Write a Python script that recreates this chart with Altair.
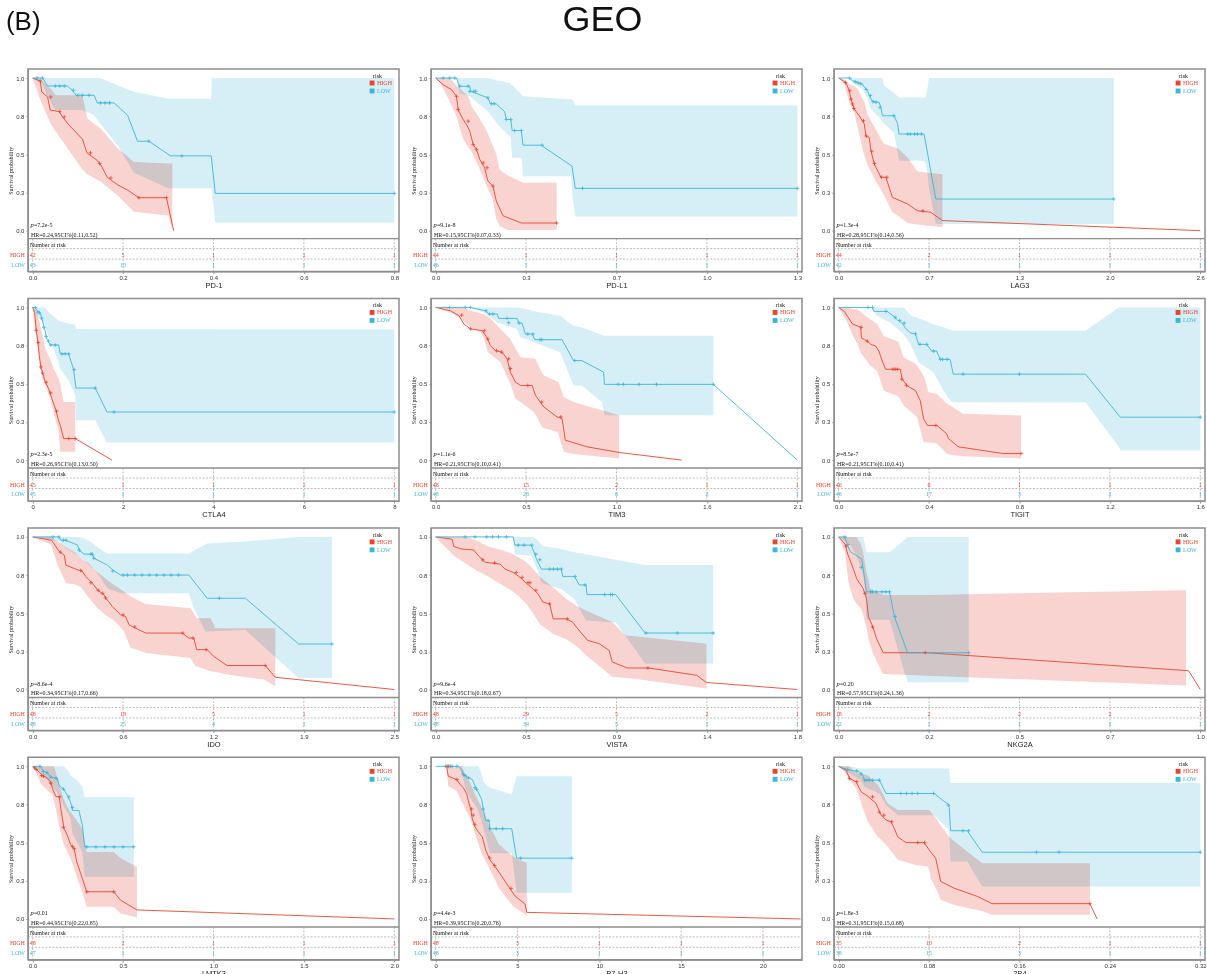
import altair as alt
import pandas as pd

# ---------------------------------------------------------------- data
PANEL_TITLES = ["PD-1", "PD-L1", "LAG3", "CTLA4", "TIM3", "TIGIT",
                "IDO", "VISTA", "NKG2A", "LMTK3", "B7-H3", "2B4"]
P_VALUES = ["7.2e-5", "9.1e-8", "1.3e-4", "2.3e-5", "1.1e-6", "8.5e-7",
            "8.6e-4", "9.6e-4", "0.20", "0.01", "4.4e-3", "1.8e-3"]
HR_TEXT = ["HR=0.24,95CI%(0.11,0.52)", "HR=0.15,95CI%(0.07,0.33)",
           "HR=0.28,95CI%(0.14,0.56)", "HR=0.26,95CI%(0.13,0.50)",
           "HR=0.21,95CI%(0.10,0.41)", "HR=0.21,95CI%(0.10,0.41)",
           "HR=0.34,95CI%(0.17,0.66)", "HR=0.34,95CI%(0.18,0.67)",
           "HR=0.57,95CI%(0.24,1.36)", "HR=0.44,95CI%(0.22,0.85)",
           "HR=0.39,95CI%(0.20,0.76)", "HR=0.31,95CI%(0.15,0.68)"]
X_TICKS = [[0, 0.2, 0.4, 0.6, 0.8], [0, 0.325, 0.65, 0.975, 1.3],
           [0, 0.655, 1.31, 1.965, 2.62], [0, 2, 4, 6, 8],
           [0, 0.52, 1.04, 1.56, 2.08], [0, 0.4, 0.8, 1.2, 1.6],
           [0, 0.62, 1.24, 1.86, 2.48], [0, 0.46, 0.92, 1.38, 1.84],
           [0, 0.24, 0.48, 0.72, 0.96], [0, 0.5, 1.0, 1.5, 2.0],
           [0, 5, 10, 15, 20], [0, 0.08, 0.16, 0.24, 0.32]]
X_FORMATS = [".1f", ".1f", ".1f", "d", ".1f", ".1f", ".1f", ".1f", ".1f", ".1f", "d", ".2f"]
X_END = [0.8, 1.3, 2.62, 8, 2.08, 1.6, 2.48, 1.84, 0.96, 2.0, 22.1, 0.32]
RISK_HIGH = [[42, 5, 1, 1, 1], [44, 1, 1, 1, 1], [44, 2, 1, 1, 1], [45, 1, 1, 1, 1],
             [48, 15, 2, 1, 1], [46, 6, 1, 1, 1], [48, 18, 5, 1, 1], [48, 29, 5, 2, 1],
             [18, 2, 2, 2, 1], [48, 2, 1, 1, 1], [48, 3, 1, 1, 1], [35, 10, 2, 1, 1]]
RISK_LOW = [[43, 10, 1, 1, 1], [46, 5, 1, 1, 1], [42, 1, 1, 1, 1], [45, 1, 1, 1, 1],
            [48, 26, 6, 2, 1], [46, 17, 3, 2, 1], [48, 25, 4, 1, 1], [48, 34, 5, 1, 1],
            [22, 1, 1, 1, 1], [47, 1, 1, 1, 1], [48, 3, 1, 1, 1], [38, 15, 3, 1, 1]]

# ---- PD-1
PD1_HIGH_LINE = [(0, 1.0), (0.017, 0.98), (0.02, 0.91), (0.033, 0.876), (0.039, 0.79), (0.059, 0.78),
                 (0.066, 0.745), (0.081, 0.69), (0.11, 0.60), (0.12, 0.51), (0.143, 0.46), (0.151, 0.43),
                 (0.165, 0.35), (0.188, 0.30), (0.21, 0.266), (0.235, 0.216), (0.296, 0.216), (0.312, 0.0)]
PD1_HIGH_CENS = [(0.017, 0.98), (0.04, 0.876), (0.06, 0.78), (0.07, 0.745), (0.128, 0.51), (0.148, 0.44),
                 (0.173, 0.345), (0.235, 0.216), (0.296, 0.216)]
PD1_HIGH_BAND = [(0, 1, 1), (0.018, 0.85, 0.99), (0.04, 0.70, 0.93), (0.051, 0.65, 0.887), (0.077, 0.54, 0.887),
                 (0.11, 0.40, 0.887), (0.121, 0.37, 0.734), (0.151, 0.32, 0.667), (0.188, 0.23, 0.54),
                 (0.224, 0.124, 0.45), (0.30, 0.10, 0.44), (0.309, 0.0, 0.44)]
PD1_LOW_LINE = [(0, 1.0), (0.022, 1.0), (0.033, 0.948), (0.077, 0.948), (0.088, 0.92), (0.096, 0.887),
                (0.136, 0.887), (0.143, 0.837), (0.18, 0.837), (0.21, 0.756), (0.232, 0.586), (0.257, 0.586),
                (0.305, 0.49), (0.395, 0.49), (0.404, 0.244), (0.8, 0.244)]
PD1_LOW_CENS = [(0.01, 1.0), (0.022, 1.0), (0.05, 0.948), (0.06, 0.948), (0.07, 0.948), (0.09, 0.92),
                (0.1, 0.887), (0.11, 0.887), (0.125, 0.887), (0.15, 0.837), (0.16, 0.837), (0.17, 0.837),
                (0.257, 0.586), (0.33, 0.49), (0.8, 0.244)]
PD1_LOW_BAND = [(0, 1, 1), (0.022, 0.96, 1), (0.033, 0.88, 1), (0.05, 0.79, 1), (0.11, 0.79, 1),
                (0.136, 0.756, 1), (0.15, 0.70, 1), (0.19, 0.55, 0.95), (0.224, 0.38, 0.91),
                (0.30, 0.277, 0.865), (0.395, 0.277, 0.865), (0.396, 0.277, 1.0), (0.404, 0.054, 1.0),
                (0.8, 0.054, 1.0)]

# ---- PD-L1
PDL1_HIGH_LINE = [(0, 1.0), (0.027, 0.956), (0.057, 0.924), (0.075, 0.88), (0.081, 0.793), (0.099, 0.728),
                  (0.111, 0.695), (0.123, 0.651), (0.135, 0.564), (0.147, 0.531), (0.159, 0.466),
                  (0.176, 0.412), (0.188, 0.325), (0.206, 0.292), (0.218, 0.194), (0.242, 0.098),
                  (0.308, 0.05), (0.435, 0.05)]
PDL1_HIGH_CENS = [(0.075, 0.88), (0.081, 0.793), (0.117, 0.717), (0.135, 0.564), (0.147, 0.531),
                  (0.171, 0.444), (0.185, 0.412), (0.206, 0.292), (0.435, 0.05)]
PDL1_HIGH_BAND = [(0, 1, 1), (0.016, 0.97, 1), (0.05, 0.85, 1), (0.075, 0.75, 0.95), (0.099, 0.60, 0.91),
                  (0.117, 0.55, 0.88), (0.129, 0.52, 0.815), (0.153, 0.425, 0.75), (0.182, 0.30, 0.66),
                  (0.206, 0.20, 0.555), (0.218, 0.074, 0.50), (0.23, 0.03, 0.40), (0.26, 0.005, 0.36),
                  (0.314, 0.005, 0.314), (0.435, 0.005, 0.314)]
PDL1_LOW_LINE = [(0, 1.0), (0.075, 1.0), (0.085, 0.946), (0.123, 0.946), (0.126, 0.913), (0.188, 0.87),
                 (0.197, 0.832), (0.218, 0.83), (0.248, 0.78), (0.254, 0.728), (0.27, 0.728), (0.275, 0.656),
                 (0.308, 0.656), (0.314, 0.56), (0.379, 0.56), (0.49, 0.423), (0.502, 0.277), (1.3, 0.277)]
PDL1_LOW_CENS = [(0.027, 1.0), (0.051, 1.0), (0.069, 1.0), (0.087, 0.946), (0.117, 0.946), (0.123, 0.913),
                 (0.137, 0.913), (0.144, 0.913), (0.188, 0.87), (0.2, 0.832), (0.21, 0.832), (0.254, 0.728),
                 (0.27, 0.728), (0.284, 0.656), (0.308, 0.656), (0.383, 0.56), (0.528, 0.277), (1.3, 0.277)]
PDL1_LOW_BAND = [(0, 1, 1), (0.075, 1.0, 1), (0.085, 0.9, 1), (0.123, 0.88, 1), (0.182, 0.79, 1),
                 (0.188, 0.78, 1), (0.23, 0.68, 0.98), (0.266, 0.62, 0.967), (0.27, 0.61, 0.96),
                 (0.275, 0.478, 0.955), (0.31, 0.478, 0.89), (0.314, 0.357, 0.88), (0.487, 0.357, 0.86),
                 (0.493, 0.205, 0.858), (0.502, 0.092, 0.82), (1.3, 0.092, 0.82)]

# ---- LAG3
LAG3_HIGH_LINE = [(0, 1.0), (0.053, 0.97), (0.077, 0.917), (0.089, 0.862), (0.113, 0.797), (0.149, 0.753),
                  (0.186, 0.699), (0.198, 0.62), (0.222, 0.61), (0.234, 0.524), (0.258, 0.437), (0.306, 0.35),
                  (0.342, 0.35), (0.39, 0.218), (0.499, 0.175), (0.571, 0.13), (0.668, 0.12), (0.752, 0.066),
                  (2.62, 0.0)]
LAG3_HIGH_CENS = [(0.05, 0.97), (0.08, 0.917), (0.09, 0.862), (0.1, 0.83), (0.11, 0.8), (0.18, 0.72),
                  (0.2, 0.62), (0.24, 0.52), (0.26, 0.44), (0.31, 0.35), (0.35, 0.35), (0.61, 0.13)]
LAG3_HIGH_BAND = [(0, 1, 1), (0.041, 0.96, 0.99), (0.077, 0.84, 0.96), (0.113, 0.775, 0.945),
                  (0.137, 0.677, 0.93), (0.186, 0.49, 0.84), (0.21, 0.43, 0.76), (0.258, 0.343, 0.68),
                  (0.306, 0.27, 0.60), (0.33, 0.23, 0.57), (0.39, 0.12, 0.55), (0.427, 0.10, 0.54),
                  (0.475, 0.066, 0.50), (0.5, 0.05, 0.48), (0.571, 0.04, 0.387), (0.752, 0.022, 0.37)]
LAG3_LOW_LINE = [(0, 1.0), (0.077, 1.0), (0.1, 0.983), (0.173, 0.96), (0.186, 0.94), (0.21, 0.917),
                 (0.222, 0.885), (0.246, 0.845), (0.294, 0.84), (0.306, 0.808), (0.318, 0.753), (0.402, 0.753),
                 (0.427, 0.7), (0.438, 0.633), (0.619, 0.633), (0.704, 0.207), (1.993, 0.207)]
LAG3_LOW_CENS = [(0.08, 1.0), (0.12, 0.975), (0.14, 0.968), (0.16, 0.962), (0.2, 0.925), (0.23, 0.885),
                 (0.25, 0.845), (0.27, 0.842), (0.3, 0.808), (0.4, 0.753), (0.5, 0.633), (0.52, 0.633),
                 (0.55, 0.633), (0.57, 0.633), (0.6, 0.633), (1.993, 0.207)]
LAG3_LOW_BAND = [(0, 1, 1), (0.077, 1, 1), (0.1, 0.97, 1), (0.173, 0.928, 1), (0.21, 0.862, 1),
                 (0.234, 0.797, 1), (0.306, 0.73, 1), (0.318, 0.71, 1), (0.33, 0.70, 0.95), (0.402, 0.64, 0.90),
                 (0.438, 0.458, 0.873), (0.619, 0.458, 0.873), (0.63, 0.44, 0.873), (0.643, 0.38, 0.93),
                 (0.655, 0.28, 1.0), (0.704, 0.044, 1.0), (1.993, 0.044, 1.0)]

# ---- CTLA4
CTLA4_HIGH_LINE = [(0, 1.0), (0.044, 0.967), (0.081, 0.848), (0.118, 0.772), (0.147, 0.685), (0.184, 0.609),
                   (0.228, 0.565), (0.28, 0.511), (0.354, 0.467), (0.427, 0.402), (0.516, 0.326), (0.56, 0.272),
                   (0.611, 0.228), (0.648, 0.185), (0.685, 0.141), (0.943, 0.141), (1.753, 0.0)]
CTLA4_HIGH_CENS = [(0.08, 0.85), (0.12, 0.77), (0.18, 0.61), (0.22, 0.57), (0.3, 0.51), (0.4, 0.44),
                   (0.53, 0.32), (0.8, 0.141), (0.943, 0.141)]
CTLA4_HIGH_BAND = [(0, 1, 1), (0.044, 0.88, 0.99), (0.096, 0.772, 0.967), (0.17, 0.598, 0.88),
                   (0.206, 0.55, 0.837), (0.28, 0.489, 0.728), (0.39, 0.402, 0.663), (0.464, 0.315, 0.598),
                   (0.575, 0.185, 0.533), (0.611, 0.054, 0.50), (0.685, 0.054, 0.38), (0.943, 0.054, 0.38)]
CTLA4_LOW_LINE = [(0, 1.0), (0.059, 1.0), (0.096, 0.978), (0.17, 0.963), (0.206, 0.924), (0.265, 0.859),
                  (0.317, 0.793), (0.39, 0.754), (0.575, 0.754), (0.611, 0.696), (0.796, 0.696), (0.906, 0.593),
                  (0.958, 0.472), (1.385, 0.472), (1.643, 0.315), (8.0, 0.315)]
CTLA4_LOW_CENS = [(0.06, 1.0), (0.12, 0.97), (0.15, 0.965), (0.2, 0.93), (0.25, 0.87), (0.3, 0.81),
                  (0.35, 0.78), (0.4, 0.754), (0.5, 0.754), (0.65, 0.696), (0.72, 0.696), (0.8, 0.696),
                  (0.92, 0.593), (1.385, 0.472), (1.8, 0.315), (8.0, 0.315)]
CTLA4_LOW_BAND = [(0, 1, 1), (0.096, 0.946, 1), (0.28, 0.88, 1), (0.354, 0.804, 0.967), (0.464, 0.728, 0.94),
                  (0.575, 0.64, 0.913), (0.611, 0.598, 0.91), (0.796, 0.522, 0.895), (0.943, 0.424, 0.887),
                  (0.958, 0.261, 0.859), (1.385, 0.261, 0.858), (1.643, 0.115, 0.857), (8.0, 0.115, 0.855)]

# ---- TIM3
TIM3_HIGH_LINE = [(0, 1.0), (0.086, 0.978), (0.134, 0.946), (0.163, 0.891), (0.201, 0.859), (0.268, 0.848),
                  (0.3, 0.793), (0.315, 0.75), (0.344, 0.717), (0.382, 0.707), (0.411, 0.663), (0.43, 0.576),
                  (0.459, 0.511), (0.488, 0.489), (0.555, 0.489), (0.574, 0.424), (0.602, 0.38), (0.622, 0.348),
                  (0.698, 0.283), (0.727, 0.272), (0.746, 0.13), (0.87, 0.087), (1.055, 0.05), (1.415, 0.0)]
TIM3_HIGH_CENS = [(0.15, 0.95), (0.2, 0.86), (0.28, 0.848), (0.3, 0.793), (0.35, 0.717), (0.38, 0.707),
                  (0.42, 0.663), (0.43, 0.6), (0.53, 0.489), (0.61, 0.38), (0.72, 0.283)]
TIM3_HIGH_BAND = [(0, 1, 1), (0.086, 0.967, 1), (0.143, 0.93, 1), (0.182, 0.891, 0.99), (0.201, 0.87, 0.978),
                  (0.258, 0.837, 0.96), (0.277, 0.80, 0.957), (0.3, 0.707, 0.94), (0.319, 0.69, 0.924),
                  (0.373, 0.641, 0.859), (0.43, 0.5, 0.793), (0.459, 0.402, 0.73), (0.488, 0.38, 0.674),
                  (0.564, 0.315, 0.665), (0.574, 0.30, 0.663), (0.612, 0.217, 0.57), (0.622, 0.21, 0.554),
                  (0.698, 0.185, 0.515), (0.707, 0.17, 0.511), (0.736, 0.054, 0.413), (0.793, 0.04, 0.38),
                  (1.055, 0.011, 0.293)]
TIM3_LOW_LINE = [(0, 1.0), (0.201, 1.0), (0.287, 0.978), (0.306, 0.957), (0.354, 0.957), (0.363, 0.928),
                 (0.468, 0.928), (0.478, 0.898), (0.497, 0.898), (0.516, 0.826), (0.555, 0.826), (0.57, 0.789),
                 (0.727, 0.789), (0.793, 0.652), (0.841, 0.652), (0.966, 0.576), (0.971, 0.496),
                 (1.597, 0.496), (2.08, 0.0)]
TIM3_LOW_CENS = [(0.08, 1.0), (0.17, 1.0), (0.2, 1.0), (0.29, 0.978), (0.31, 0.957), (0.33, 0.957),
                 (0.41, 0.928), (0.42, 0.9), (0.48, 0.898), (0.53, 0.826), (0.56, 0.826), (0.6, 0.789),
                 (0.61, 0.789), (0.8, 0.652), (1.05, 0.496), (1.08, 0.496), (1.17, 0.496), (1.27, 0.496),
                 (1.597, 0.496)]
TIM3_LOW_BAND = [(0, 1, 1), (0.201, 1, 1), (0.277, 0.967, 1), (0.354, 0.902, 1), (0.468, 0.859, 1),
                 (0.478, 0.83, 1), (0.488, 0.804, 0.998), (0.555, 0.78, 0.978), (0.564, 0.772, 0.975),
                 (0.717, 0.707, 0.946), (0.755, 0.598, 0.91), (0.793, 0.489, 0.88), (0.841, 0.489, 0.87),
                 (0.956, 0.38, 0.82), (0.966, 0.33, 0.815), (0.971, 0.293, 0.815), (1.597, 0.293, 0.815)]

# ---- TIGIT
TIGIT_HIGH_LINE = [(0, 1.0), (0.025, 0.974), (0.039, 0.942), (0.061, 0.892), (0.098, 0.87), (0.101, 0.8),
                   (0.127, 0.779), (0.142, 0.758), (0.164, 0.747), (0.178, 0.714), (0.193, 0.649),
                   (0.208, 0.595), (0.273, 0.595), (0.281, 0.53), (0.303, 0.487), (0.34, 0.455), (0.361, 0.39),
                   (0.376, 0.27), (0.393, 0.227), (0.434, 0.227), (0.478, 0.173), (0.486, 0.141),
                   (0.529, 0.087), (0.727, 0.043), (0.807, 0.043)]
TIGIT_HIGH_CENS = [(0.1, 0.87), (0.127, 0.779), (0.24, 0.595), (0.25, 0.595), (0.26, 0.595), (0.28, 0.53),
                   (0.3, 0.49), (0.43, 0.227), (0.807, 0.043)]
TIGIT_HIGH_BAND = [(0, 1, 1), (0.039, 0.90, 1), (0.061, 0.823, 0.99), (0.083, 0.76, 0.985),
                   (0.098, 0.703, 0.97), (0.12, 0.66, 0.942), (0.135, 0.628, 0.93), (0.164, 0.59, 0.898),
                   (0.171, 0.584, 0.89), (0.2, 0.455, 0.812), (0.259, 0.42, 0.779), (0.266, 0.411, 0.77),
                   (0.288, 0.357, 0.671), (0.332, 0.30, 0.639), (0.347, 0.281, 0.62), (0.376, 0.119, 0.552),
                   (0.398, 0.115, 0.444), (0.434, 0.108, 0.433), (0.478, 0.043, 0.37), (0.493, 0.035, 0.357),
                   (0.551, 0.025, 0.303), (0.807, 0.011, 0.292)]
TIGIT_LOW_LINE = [(0, 1.0), (0.149, 1.0), (0.156, 0.974), (0.215, 0.974), (0.244, 0.942), (0.259, 0.92),
                  (0.281, 0.898), (0.295, 0.866), (0.317, 0.833), (0.339, 0.827), (0.354, 0.758), (0.39, 0.758),
                  (0.412, 0.714), (0.434, 0.714), (0.449, 0.66), (0.493, 0.66), (0.507, 0.563), (1.092, 0.563),
                  (1.246, 0.281), (1.6, 0.281)]
TIGIT_LOW_CENS = [(0.13, 1.0), (0.15, 1.0), (0.21, 0.974), (0.25, 0.935), (0.27, 0.915), (0.29, 0.898),
                  (0.34, 0.827), (0.36, 0.758), (0.39, 0.758), (0.42, 0.714), (0.45, 0.66), (0.46, 0.66),
                  (0.48, 0.66), (0.55, 0.563), (0.8, 0.563), (1.6, 0.281)]
TIGIT_LOW_BAND = [(0, 1, 1), (0.149, 1, 1), (0.164, 0.952, 1), (0.23, 0.898, 1), (0.288, 0.823, 1),
                  (0.317, 0.76, 0.952), (0.332, 0.714, 0.94), (0.354, 0.639, 0.93), (0.405, 0.59, 0.898),
                  (0.42, 0.574, 0.89), (0.464, 0.455, 0.87), (0.5, 0.379, 0.85), (0.507, 0.379, 0.848),
                  (1.092, 0.379, 0.848), (1.238, 0.09, 1.0), (1.246, 0.065, 1.0), (1.6, 0.065, 1.0)]

# ---- IDO
IDO_HIGH_LINE = [(0, 1.0), (0.13, 0.978), (0.153, 0.946), (0.175, 0.913), (0.217, 0.88), (0.228, 0.815),
                 (0.285, 0.793), (0.342, 0.772), (0.365, 0.739), (0.41, 0.696), (0.445, 0.652), (0.49, 0.62),
                 (0.502, 0.598), (0.547, 0.543), (0.604, 0.489), (0.638, 0.478), (0.661, 0.424), (0.706, 0.402),
                 (0.775, 0.37), (1.026, 0.37), (1.071, 0.337), (1.106, 0.337), (1.124, 0.261), (1.197, 0.261),
                 (1.242, 0.217), (1.333, 0.157), (1.595, 0.157), (1.664, 0.08), (2.48, 0.0)]
IDO_HIGH_CENS = [(0.19, 0.9), (0.33, 0.78), (0.4, 0.7), (0.45, 0.65), (0.48, 0.63), (0.5, 0.6), (0.62, 0.489),
                 (0.7, 0.41), (1.03, 0.37), (1.1, 0.337), (1.19, 0.261), (1.595, 0.157)]
IDO_HIGH_BAND = [(0, 1, 1), (0.125, 0.95, 1), (0.171, 0.815, 0.97), (0.194, 0.77, 0.957), (0.228, 0.696, 0.93),
                 (0.285, 0.69, 0.902), (0.33, 0.674, 0.86), (0.388, 0.598, 0.826), (0.422, 0.56, 0.783),
                 (0.445, 0.533, 0.77), (0.513, 0.48, 0.717), (0.536, 0.467, 0.70), (0.593, 0.42, 0.663),
                 (0.627, 0.38, 0.641), (0.672, 0.272, 0.609), (0.764, 0.245, 0.565), (0.775, 0.239, 0.56),
                 (1.083, 0.207, 0.533), (1.117, 0.152, 0.48), (1.128, 0.15, 0.467), (1.22, 0.12, 0.467),
                 (1.254, 0.115, 0.402), (1.333, 0.098, 0.402), (1.584, 0.065, 0.402), (1.664, 0.022, 0.402)]
IDO_LOW_LINE = [(0, 1.0), (0.182, 1.0), (0.194, 0.978), (0.228, 0.978), (0.308, 0.946), (0.319, 0.913),
                (0.353, 0.887), (0.41, 0.887), (0.422, 0.859), (0.513, 0.815), (0.559, 0.776), (0.604, 0.75),
                (1.071, 0.75), (1.197, 0.598), (1.459, 0.598), (1.824, 0.298), (2.052, 0.298)]
IDO_LOW_CENS = [(0.14, 1.0), (0.18, 1.0), (0.21, 0.978), (0.23, 0.978), (0.32, 0.913), (0.4, 0.887),
                (0.41, 0.887), (0.42, 0.86), (0.55, 0.776), (0.62, 0.75), (0.65, 0.75), (0.7, 0.75), (0.75, 0.75),
                (0.8, 0.75), (0.85, 0.75), (0.9, 0.75), (0.95, 0.75), (1.0, 0.75), (1.28, 0.598), (2.052, 0.298)]
IDO_LOW_BAND = [(0, 1, 1), (0.182, 0.97, 1), (0.228, 0.924, 1), (0.308, 0.88, 1), (0.319, 0.87, 1),
                (0.353, 0.848, 0.99), (0.399, 0.804, 0.967), (0.445, 0.761, 0.93), (0.513, 0.663, 0.891),
                (0.604, 0.63, 0.891), (1.071, 0.63, 0.891), (1.106, 0.533, 0.91), (1.185, 0.38, 0.95),
                (1.197, 0.38, 0.957), (1.459, 0.39, 0.97), (1.824, 0.076, 1.0), (2.052, 0.076, 1.0)]

# ---- VISTA
VISTA_HIGH_LINE = [(0, 1.0), (0.084, 0.985), (0.092, 0.937), (0.134, 0.92), (0.193, 0.915), (0.218, 0.876),
                   (0.252, 0.833), (0.328, 0.822), (0.353, 0.789), (0.395, 0.767), (0.429, 0.735),
                   (0.462, 0.696), (0.496, 0.659), (0.521, 0.626), (0.546, 0.572), (0.58, 0.561),
                   (0.598, 0.463), (0.664, 0.463), (0.697, 0.441), (0.723, 0.398), (0.773, 0.322),
                   (0.832, 0.3), (0.882, 0.257), (0.899, 0.18), (0.975, 0.141), (1.084, 0.141), (1.328, 0.093),
                   (1.378, 0.046), (1.84, 0.0)]
VISTA_HIGH_CENS = [(0.24, 0.85), (0.3, 0.83), (0.41, 0.767), (0.44, 0.735), (0.47, 0.7), (0.48, 0.7),
                   (0.51, 0.65), (0.58, 0.561), (0.67, 0.463), (1.08, 0.141)]
VISTA_HIGH_BAND = [(0, 1, 1), (0.092, 0.876, 1), (0.16, 0.82, 1), (0.21, 0.778, 0.974), (0.261, 0.746, 0.941),
                   (0.345, 0.68, 0.909), (0.395, 0.64, 0.887), (0.429, 0.604, 0.86), (0.462, 0.561, 0.833),
                   (0.496, 0.5, 0.789), (0.529, 0.43, 0.74), (0.597, 0.365, 0.67), (0.664, 0.33, 0.593),
                   (0.714, 0.289, 0.55), (0.765, 0.224, 0.517), (0.899, 0.083, 0.441), (0.966, 0.075, 0.354),
                   (1.0, 0.072, 0.35), (1.378, 0.007, 0.3)]
VISTA_LOW_LINE = [(0, 1.0), (0.395, 1.0), (0.403, 0.946), (0.487, 0.946), (0.504, 0.887), (0.513, 0.854),
                  (0.538, 0.789), (0.639, 0.789), (0.647, 0.741), (0.706, 0.741), (0.731, 0.685),
                  (0.765, 0.685), (0.77, 0.622), (0.916, 0.622), (1.066, 0.37), (1.412, 0.37)]
VISTA_LOW_CENS = [(0.15, 1.0), (0.2, 1.0), (0.26, 1.0), (0.29, 1.0), (0.32, 1.0), (0.36, 1.0), (0.42, 0.946),
                  (0.45, 0.946), (0.49, 0.946), (0.51, 0.887), (0.53, 0.85), (0.58, 0.789), (0.6, 0.789),
                  (0.62, 0.789), (0.64, 0.789), (0.71, 0.741), (0.76, 0.685), (0.86, 0.622), (0.89, 0.622),
                  (0.9, 0.622), (1.07, 0.37), (1.23, 0.37), (1.412, 0.37)]
VISTA_LOW_BAND = [(0, 1, 1), (0.395, 1, 1), (0.403, 0.887, 1), (0.487, 0.876, 1), (0.496, 0.85, 1),
                  (0.513, 0.8, 0.985), (0.538, 0.702, 0.95), (0.546, 0.695, 0.941), (0.639, 0.659, 0.92),
                  (0.706, 0.593, 0.9), (0.765, 0.452, 0.887), (0.899, 0.441, 0.854), (0.916, 0.441, 0.85),
                  (1.066, 0.17, 0.815), (1.412, 0.17, 0.815)]

# ---- NKG2A
NKG2A_HIGH_LINE = [(0, 1.0), (0.017, 0.953), (0.024, 0.888), (0.039, 0.791), (0.048, 0.726), (0.065, 0.662),
                   (0.074, 0.597), (0.079, 0.478), (0.092, 0.403), (0.1, 0.338), (0.118, 0.241), (0.236, 0.241),
                   (0.929, 0.123), (0.96, 0.0)]
NKG2A_HIGH_CENS = [(0.02, 0.94), (0.07, 0.63), (0.09, 0.41), (0.23, 0.241)]
NKG2A_HIGH_BAND = [(0, 1, 1), (0.017, 0.899, 1), (0.026, 0.705, 1), (0.039, 0.597, 1), (0.048, 0.56, 1),
                   (0.059, 0.532, 0.95), (0.065, 0.49, 0.899), (0.074, 0.40, 0.769), (0.079, 0.338, 0.72),
                   (0.083, 0.30, 0.662), (0.092, 0.231, 0.65), (0.118, 0.101, 0.619), (0.236, 0.09, 0.62),
                   (0.922, 0.026, 0.651)]
NKG2A_LOW_LINE = [(0, 1.0), (0.017, 1.0), (0.022, 0.953), (0.031, 0.903), (0.061, 0.856), (0.067, 0.759),
                  (0.074, 0.64), (0.135, 0.64), (0.148, 0.478), (0.183, 0.241), (0.345, 0.241)]
NKG2A_LOW_CENS = [(0.017, 1.0), (0.025, 0.95), (0.06, 0.8), (0.085, 0.64), (0.09, 0.64), (0.1, 0.64),
                  (0.115, 0.64), (0.125, 0.64), (0.135, 0.64), (0.15, 0.478), (0.345, 0.241)]
NKG2A_LOW_BAND = [(0, 1, 1), (0.031, 0.95, 1), (0.039, 0.92, 1), (0.061, 0.791, 1), (0.065, 0.75, 1),
                  (0.07, 0.662, 0.95), (0.074, 0.457, 0.899), (0.135, 0.457, 0.899), (0.161, 0.231, 0.95),
                  (0.183, 0.047, 1.0), (0.345, 0.047, 1.0)]

# ---- LMTK3
LMTK3_HIGH_LINE = [(0, 1.0), (0.018, 0.983), (0.037, 0.961), (0.055, 0.939), (0.082, 0.922), (0.101, 0.896),
                   (0.11, 0.852), (0.128, 0.804), (0.147, 0.798), (0.156, 0.722), (0.174, 0.591), (0.192, 0.548),
                   (0.21, 0.487), (0.229, 0.461), (0.244, 0.374), (0.275, 0.265), (0.299, 0.178), (0.449, 0.178),
                   (0.485, 0.124), (0.577, 0.059), (2.0, 0.0)]
LMTK3_HIGH_CENS = [(0.01, 0.99), (0.02, 0.98), (0.05, 0.94), (0.06, 0.935), (0.1, 0.89), (0.15, 0.8),
                   (0.17, 0.6), (0.22, 0.475), (0.23, 0.46), (0.3, 0.178), (0.449, 0.178)]
LMTK3_HIGH_BAND = [(0, 1, 1), (0.027, 0.939, 1), (0.046, 0.885, 1), (0.11, 0.809, 1), (0.119, 0.77, 1),
                   (0.128, 0.722, 0.96), (0.137, 0.67, 0.917), (0.147, 0.613, 0.88), (0.165, 0.52, 0.809),
                   (0.174, 0.483, 0.78), (0.192, 0.44, 0.733), (0.21, 0.396, 0.70), (0.238, 0.30, 0.657),
                   (0.247, 0.265, 0.64), (0.275, 0.178, 0.591), (0.299, 0.08, 0.439), (0.449, 0.08, 0.439),
                   (0.485, 0.037, 0.40), (0.577, 0.009, 0.341)]
LMTK3_LOW_LINE = [(0, 1.0), (0.046, 1.0), (0.055, 0.972), (0.082, 0.957), (0.101, 0.928), (0.137, 0.922),
                  (0.147, 0.874), (0.174, 0.848), (0.192, 0.809), (0.21, 0.765), (0.22, 0.711), (0.256, 0.711),
                  (0.275, 0.613), (0.288, 0.472), (0.559, 0.472)]
LMTK3_LOW_CENS = [(0.04, 1.0), (0.06, 0.965), (0.08, 0.957), (0.1, 0.93), (0.13, 0.922), (0.17, 0.85),
                  (0.2, 0.8), (0.22, 0.73), (0.3, 0.472), (0.35, 0.472), (0.4, 0.472), (0.45, 0.472),
                  (0.5, 0.472), (0.559, 0.472)]
LMTK3_LOW_BAND = [(0, 1, 1), (0.046, 0.96, 1), (0.101, 0.874, 1), (0.137, 0.83, 1), (0.174, 0.733, 1),
                  (0.201, 0.68, 0.961), (0.21, 0.657, 0.94), (0.22, 0.559, 0.93), (0.247, 0.50, 0.907),
                  (0.275, 0.439, 0.863), (0.288, 0.276, 0.798), (0.559, 0.276, 0.798)]

# ---- B7-H3
B7H3_HIGH_LINE = [(0.67, 1.0), (0.77, 0.935), (1.28, 0.914), (1.49, 0.882), (1.69, 0.86), (1.9, 0.82),
                  (2.0, 0.774), (2.16, 0.71), (2.24, 0.656), (2.41, 0.602), (2.61, 0.57), (2.85, 0.538),
                  (3.06, 0.452), (3.32, 0.387), (3.63, 0.344), (4.04, 0.28), (4.44, 0.215), (4.85, 0.151),
                  (5.46, 0.097), (5.57, 0.043), (22.3, 0.0)]
B7H3_HIGH_CENS = [(0.7, 1.0), (0.8, 1.0), (1.3, 0.914), (2.2, 0.72), (2.3, 0.68), (2.4, 0.62), (3.3, 0.4),
                  (3.6, 0.35), (4.6, 0.2)]
B7H3_HIGH_BAND = [(0.67, 1, 1), (0.77, 0.871, 1), (1.28, 0.839, 1), (1.59, 0.77, 1), (1.69, 0.753, 0.98),
                  (1.8, 0.72, 0.946), (2.1, 0.667, 0.892), (2.41, 0.559, 0.817), (2.71, 0.46, 0.753),
                  (2.81, 0.43, 0.73), (3.12, 0.366, 0.645), (3.43, 0.30, 0.58), (3.63, 0.258, 0.54),
                  (3.83, 0.21, 0.495), (4.24, 0.151, 0.452), (4.75, 0.08, 0.409), (4.85, 0.075, 0.40),
                  (5.57, 0.022, 0.366)]
B7H3_LOW_LINE = [(0, 1.0), (1.39, 1.0), (1.59, 0.978), (1.69, 0.946), (2.0, 0.925), (2.24, 0.914),
                 (2.37, 0.882), (2.51, 0.849), (2.81, 0.785), (2.91, 0.72), (3.06, 0.645), (3.26, 0.645),
                 (3.32, 0.591), (4.65, 0.591), (4.95, 0.398), (8.32, 0.398)]
B7H3_LOW_CENS = [(0.6, 1.0), (0.9, 1.0), (1.0, 1.0), (1.3, 1.0), (1.7, 0.946), (1.8, 0.94), (2.0, 0.925),
                 (2.4, 0.86), (2.5, 0.85), (2.9, 0.72), (3.2, 0.645), (3.3, 0.591), (3.7, 0.591), (4.1, 0.591),
                 (5.2, 0.398), (8.32, 0.398)]
B7H3_LOW_BAND = [(0, 1, 1), (1.39, 1, 1), (1.69, 0.92, 1), (1.8, 0.86, 1), (2.1, 0.796, 1), (2.51, 0.731, 1),
                 (2.61, 0.70, 1), (2.81, 0.645, 0.95), (2.91, 0.6, 0.903), (3.06, 0.538, 0.88),
                 (3.32, 0.43, 0.86), (4.65, 0.43, 0.817), (4.95, 0.172, 0.935), (8.32, 0.172, 0.935)]

# ---- 2B4
B2B4_HIGH_LINE = [(0, 1.0), (0.0067, 0.974), (0.0097, 0.92), (0.0155, 0.898), (0.0199, 0.833), (0.0258, 0.804),
                  (0.0331, 0.757), (0.0375, 0.68), (0.0419, 0.648), (0.0463, 0.637), (0.0493, 0.593),
                  (0.0522, 0.539), (0.0595, 0.5), (0.0757, 0.5), (0.0801, 0.452), (0.0859, 0.398),
                  (0.0903, 0.246), (0.102, 0.202), (0.1226, 0.148), (0.1358, 0.1), (0.2223, 0.1), (0.2287, 0.0)]
B2B4_HIGH_CENS = [(0.0095, 0.92), (0.016, 0.9), (0.03, 0.8), (0.036, 0.7), (0.04, 0.68), (0.047, 0.637),
                  (0.07, 0.5), (0.076, 0.5), (0.2223, 0.1)]
B2B4_HIGH_BAND = [(0, 1, 1), (0.0067, 0.95, 1), (0.0097, 0.909, 1), (0.0141, 0.87, 0.963), (0.0155, 0.854, 0.96),
                  (0.0258, 0.637, 0.941), (0.0346, 0.539, 0.88), (0.0375, 0.52, 0.843), (0.0434, 0.474, 0.757),
                  (0.0522, 0.387, 0.713), (0.0683, 0.354, 0.713), (0.0786, 0.343, 0.713),
                  (0.0801, 0.32, 0.713), (0.0815, 0.267, 0.70), (0.0874, 0.18, 0.648), (0.0903, 0.126, 0.61),
                  (0.0977, 0.105, 0.539), (0.102, 0.093, 0.51), (0.127, 0.05, 0.365), (0.1358, 0.028, 0.365),
                  (0.2223, 0.028, 0.365)]
B2B4_LOW_LINE = [(0, 1.0), (0.0082, 0.978), (0.0185, 0.963), (0.0214, 0.941), (0.0229, 0.909), (0.0361, 0.909),
                 (0.0419, 0.822), (0.0845, 0.822), (0.0977, 0.746), (0.0991, 0.578), (0.1138, 0.578),
                 (0.127, 0.437), (0.32, 0.437)]
B2B4_LOW_CENS = [(0.008, 0.978), (0.016, 0.97), (0.02, 0.95), (0.023, 0.909), (0.025, 0.909), (0.027, 0.909),
                 (0.03, 0.909), (0.036, 0.909), (0.055, 0.822), (0.06, 0.822), (0.065, 0.822), (0.07, 0.822),
                 (0.084, 0.822), (0.097, 0.746), (0.11, 0.578), (0.115, 0.578), (0.175, 0.437), (0.195, 0.437),
                 (0.32, 0.437)]
B2B4_LOW_BAND = [(0, 1, 1), (0.0082, 0.96, 1), (0.0199, 0.909, 0.985), (0.0229, 0.865, 0.985),
                 (0.0361, 0.822, 0.985), (0.0419, 0.746, 0.985), (0.0522, 0.68, 0.985), (0.0845, 0.68, 0.985),
                 (0.0977, 0.583, 0.985), (0.0991, 0.376, 0.891), (0.1138, 0.376, 0.891), (0.127, 0.213, 0.891),
                 (0.32, 0.213, 0.891)]

CURVES = [
    (PD1_HIGH_LINE, PD1_HIGH_CENS, PD1_HIGH_BAND, PD1_LOW_LINE, PD1_LOW_CENS, PD1_LOW_BAND),
    (PDL1_HIGH_LINE, PDL1_HIGH_CENS, PDL1_HIGH_BAND, PDL1_LOW_LINE, PDL1_LOW_CENS, PDL1_LOW_BAND),
    (LAG3_HIGH_LINE, LAG3_HIGH_CENS, LAG3_HIGH_BAND, LAG3_LOW_LINE, LAG3_LOW_CENS, LAG3_LOW_BAND),
    (CTLA4_HIGH_LINE, CTLA4_HIGH_CENS, CTLA4_HIGH_BAND, CTLA4_LOW_LINE, CTLA4_LOW_CENS, CTLA4_LOW_BAND),
    (TIM3_HIGH_LINE, TIM3_HIGH_CENS, TIM3_HIGH_BAND, TIM3_LOW_LINE, TIM3_LOW_CENS, TIM3_LOW_BAND),
    (TIGIT_HIGH_LINE, TIGIT_HIGH_CENS, TIGIT_HIGH_BAND, TIGIT_LOW_LINE, TIGIT_LOW_CENS, TIGIT_LOW_BAND),
    (IDO_HIGH_LINE, IDO_HIGH_CENS, IDO_HIGH_BAND, IDO_LOW_LINE, IDO_LOW_CENS, IDO_LOW_BAND),
    (VISTA_HIGH_LINE, VISTA_HIGH_CENS, VISTA_HIGH_BAND, VISTA_LOW_LINE, VISTA_LOW_CENS, VISTA_LOW_BAND),
    (NKG2A_HIGH_LINE, NKG2A_HIGH_CENS, NKG2A_HIGH_BAND, NKG2A_LOW_LINE, NKG2A_LOW_CENS, NKG2A_LOW_BAND),
    (LMTK3_HIGH_LINE, LMTK3_HIGH_CENS, LMTK3_HIGH_BAND, LMTK3_LOW_LINE, LMTK3_LOW_CENS, LMTK3_LOW_BAND),
    (B7H3_HIGH_LINE, B7H3_HIGH_CENS, B7H3_HIGH_BAND, B7H3_LOW_LINE, B7H3_LOW_CENS, B7H3_LOW_BAND),
    (B2B4_HIGH_LINE, B2B4_HIGH_CENS, B2B4_HIGH_BAND, B2B4_LOW_LINE, B2B4_LOW_CENS, B2B4_LOW_BAND),
]

# ---------------------------------------------------------------- style
RED = "#E8452F"
BLUE = "#3DB5D8"
RED_BAND = "#F8D3CF"
BLUE_BAND = "#D6EEF6"
FRAME = "#8E8E8E"
SERIF = "Liberation Serif"
SANS = "Liberation Sans"

W, H = 372, 203          # frame of one panel (plot + risk table)
SEP = 170                # pixel row of the plot / risk-table separator
PX_PER_UNIT = 153.0
Y_HI = 1 + 9 / PX_PER_UNIT
Y_LO = -(H - 9 - PX_PER_UNIT) / PX_PER_UNIT
CROSS = "M-1,0L1,0M0,-1L0,1"
ONE = pd.DataFrame({"k": [0]})


def line_df(pts):
    return pd.DataFrame({"x": [p[0] for p in pts], "y": [p[1] for p in pts], "i": list(range(len(pts)))})


def band_df(pts):
    return pd.DataFrame({"x": [p[0] for p in pts], "lo": [p[1] for p in pts],
                         "hi": [p[2] for p in pts]})


def txt(text, x, y, size=6, color="#111", align="left", font=SERIF, style="normal"):
    return alt.Chart(ONE).mark_text(text=text, fontSize=size, color=color, align=align,
                                    baseline="middle", font=font, fontStyle=style).encode(
        x=alt.value(x), y=alt.value(y))


def hrule(y, color, width, dash=None):
    kw = dict(color=color, strokeWidth=width)
    if dash:
        kw["strokeDash"] = dash
    return alt.Chart(ONE).mark_rule(**kw).encode(x=alt.value(0), x2=alt.value(W), y=alt.value(y))


def panel(k):
    hl, hc, hb, ll, lc, lb = CURVES[k]
    ticks = X_TICKS[k]
    pad = X_END[k] * 0.013
    xs = alt.Scale(domain=[-pad, X_END[k] + pad], nice=False, zero=False)
    ys = alt.Scale(domain=[Y_LO, Y_HI], nice=False, zero=False)
    xaxis = alt.Axis(values=ticks, format=X_FORMATS[k], title=PANEL_TITLES[k], grid=False,
                     labelFont=SANS, labelFontSize=6, labelColor="#333", labelFlush=False,
                     labelOverlap=False, tickSize=2, tickColor=FRAME, labelPadding=1,
                     domainColor=FRAME, titleFont=SANS, titleFontSize=7.5, titleFontWeight="normal",
                     titleColor="#222", titlePadding=1)
    yaxis = alt.Axis(values=[0, 0.25, 0.5, 0.75, 1.0], format=".1f", title="Survival probability",
                     grid=False, labelFont=SANS, labelFontSize=6, labelColor="#333", tickSize=2,
                     tickColor=FRAME, labelPadding=2, domainColor=FRAME, titleFont=SERIF,
                     titleFontSize=6, titleFontWeight="normal", titleColor="#222", titlePadding=2)

    def X(f):
        return alt.X(f, type="quantitative", scale=xs, axis=xaxis)

    def Y(f):
        return alt.Y(f, type="quantitative", scale=ys, axis=yaxis)

    layers = [
        alt.Chart(band_df(lb)).mark_area(color=BLUE_BAND, fill=BLUE_BAND, opacity=1).encode(
            x=X("x"), y=Y("lo"), y2=alt.Y2("hi")),
        alt.Chart(band_df(hb)).mark_area(color=RED_BAND, fill=RED_BAND, opacity=1, blend="multiply").encode(
            x=X("x"), y=Y("lo"), y2=alt.Y2("hi")),
        alt.Chart(line_df(hl)).mark_line(color=RED, strokeWidth=0.9).encode(
            x=X("x"), y=Y("y"), order="i:Q"),
        alt.Chart(line_df(ll)).mark_line(color=BLUE, strokeWidth=0.9).encode(
            x=X("x"), y=Y("y"), order="i:Q"),
        alt.Chart(line_df(hc)).mark_point(shape=CROSS, size=14, filled=False, color=RED,
                                          strokeWidth=0.8, opacity=1).encode(x=X("x"), y=Y("y")),
        alt.Chart(line_df(lc)).mark_point(shape=CROSS, size=14, filled=False, color=BLUE,
                                          strokeWidth=0.8, opacity=1).encode(x=X("x"), y=Y("y")),
    ]
    # risk table
    tdf = pd.DataFrame({"t": ticks, "h": RISK_HIGH[k], "l": RISK_LOW[k]})
    layers += [
        hrule(SEP + 10, "#A0A0A0", 0.7, [2, 1.5]),
        hrule(SEP + 20.5, "#A0A0A0", 0.7, [2, 1.5]),
        alt.Chart(tdf).mark_rule(color="#A0A0A0", strokeWidth=0.7, strokeDash=[2, 1.5]).encode(
            x=X("t"), y=alt.value(SEP), y2=alt.value(H)),
        hrule(SEP, FRAME, 1.5),
        alt.Chart(tdf).mark_text(font=SERIF, fontSize=6, color=RED, baseline="middle").encode(
            x=X("t"), y=alt.value(SEP + 16.5), text=alt.Text("h:Q", format="d")),
        alt.Chart(tdf).mark_text(font=SERIF, fontSize=6, color=BLUE, baseline="middle").encode(
            x=X("t"), y=alt.value(SEP + 26.5), text=alt.Text("l:Q", format="d")),
        txt("Number at risk", 2, SEP + 6),
        txt("HIGH", -3, SEP + 16.5, color=RED, align="right"),
        txt("LOW", -3, SEP + 26.5, color=BLUE, align="right"),
    ]
    # legend
    layers += [
        txt("risk", W - 26, 7),
        alt.Chart(ONE).mark_square(size=24, color=RED, opacity=1).encode(
            x=alt.value(W - 27), y=alt.value(14)),
        alt.Chart(ONE).mark_square(size=24, color=BLUE, opacity=1).encode(
            x=alt.value(W - 27), y=alt.value(22)),
        txt("HIGH", W - 22, 14, color=RED),
        txt("LOW", W - 22, 22, color=BLUE),
    ]
    # statistics
    layers += [
        txt("p", 2.5, 156, size=6.5, style="italic"),
        txt("=" + P_VALUES[k], 6, 156, size=6),
        txt(HR_TEXT[k], 3, 166, size=6),
    ]
    # figure header, placed relative to the first-row panels
    if k == 0:
        layers.append(txt("(B)", -22, -47, size=26, color="#111", font=SANS))
    if k == 1:
        layers.append(txt("GEO", 172, -49, size=36, color="#111", align="center", font=SANS))
    return alt.layer(*layers).properties(width=W, height=H)


panels = [panel(k) for k in range(12)]

chart = alt.concat(*panels, columns=3, spacing=alt.RowColnumber(row=27, column=32),
                   bounds="flush").properties(
    padding={"left": 5, "top": 0, "right": 0, "bottom": 0},
    background="white",
).configure_view(stroke=FRAME, strokeWidth=1.5)

chart.save("out.html", embed_options={"renderer": "svg", "actions": False})
